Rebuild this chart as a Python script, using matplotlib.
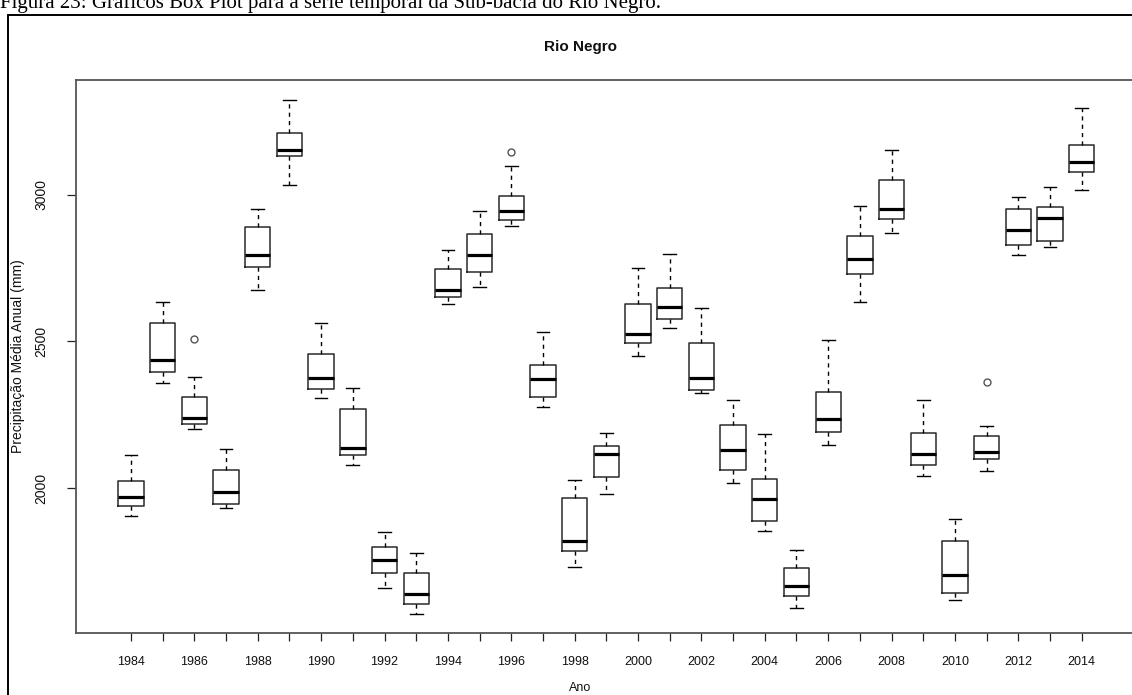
import matplotlib
matplotlib.use("Agg")
import matplotlib.pyplot as plt
from matplotlib import font_manager
from matplotlib.patches import Rectangle

# ---- data ----
years = list(range(1984, 2015))
whisker_low = [1903, 2358, 2201, 1931, 2675, 3033, 2306, 2078, 1660, 1572,
               2626, 2687, 2892, 2276, 1732, 1979, 2450, 2545, 2324, 2017,
               1855, 1592, 2147, 2635, 2869, 2041, 1618, 2057, 2794, 2820, 3017]
q1 = [1938, 2396, 2218, 1946, 2754, 3132, 2339, 2111, 1711, 1605,
      2652, 2737, 2914, 2309, 1786, 2038, 2493, 2576, 2334, 2062,
      1888, 1632, 2192, 2728, 2918, 2077, 1642, 2099, 2827, 2843, 3078]
median = [1968, 2437, 2240, 1988, 2793, 3152, 2376, 2136, 1756, 1640,
          2675, 2794, 2943, 2370, 1819, 2115, 2526, 2618, 2376, 2130,
          1964, 1666, 2236, 2782, 2951, 2115, 1703, 2123, 2879, 2921, 3112]
q3 = [2024, 2564, 2309, 2062, 2890, 3211, 2458, 2268, 1799, 1710,
      2745, 2865, 2996, 2420, 1965, 2144, 2626, 2683, 2493, 2214,
      2029, 1728, 2329, 2858, 3050, 2189, 1819, 2177, 2951, 2959, 3169]
whisker_high = [2111, 2635, 2379, 2133, 2952, 3322, 2564, 2342, 1851, 1778,
                2811, 2946, 3099, 2531, 2028, 2189, 2750, 2798, 2614, 2300,
                2185, 1789, 2506, 2962, 3152, 2300, 1893, 2210, 2993, 3026, 3294]
outlier_years = [1986, 1996, 2011]
outlier_values = [2507, 3147, 2360]
ytick_values = [2000, 2500, 3000]
xtick_label_years = [y for y in years if y % 2 == 0]

title = "Rio Negro"
xlabel = "Ano"
ylabel = "Precipitação Média Anual (mm)"
caption = "Figura 23: Gráficos Box Plot para a série temporal da Sub-bacia do Rio Negro."


def has_font(name):
    try:
        font_manager.findfont(font_manager.FontProperties(family=name), fallback_to_default=False)
        return True
    except Exception:
        return False

narrow = "Liberation Sans Narrow" if has_font("Liberation Sans Narrow") else "Liberation Sans"
regular = "Liberation Sans"
serif = "Liberation Serif"

W, H = 1132, 695
fig = plt.figure(figsize=(W / 100, H / 100), dpi=100)

# axes placement in pixels
left_px, top_px, bottom_px = 75.7, 80.0, 633.3
step_px = (1081.7 - 131.0) / 30.0
x0 = years[0] - (131.0 - left_px) / step_px
x1 = years[-1] + (131.0 - left_px) / step_px
right_px = left_px + (x1 - x0) * step_px
ax = fig.add_axes([left_px / W, 1 - bottom_px / H, (right_px - left_px) / W, (bottom_px - top_px) / H])

stats = []
for i, yr in enumerate(years):
    fl = [v for oy, v in zip(outlier_years, outlier_values) if oy == yr]
    stats.append(dict(whislo=whisker_low[i], q1=q1[i], med=median[i], q3=q3[i],
                      whishi=whisker_high[i], fliers=fl))

edge = "#2a2a2a"
ax.bxp(stats, positions=years, widths=0.8, capwidths=0.4, manage_ticks=False,
       boxprops=dict(color=edge, linewidth=1.1),
       medianprops=dict(color="black", linewidth=2.3, solid_capstyle="butt"),
       whiskerprops=dict(color="black", linewidth=1.0, linestyle=(0, (3, 3))),
       capprops=dict(color="black", linewidth=1.0),
       flierprops=dict(marker="o", markerfacecolor="none", markeredgecolor="#555555",
                       markersize=5, markeredgewidth=1.0))

ax.set_xlim(x0, x1)
ax.set_ylim(3000 - (bottom_px - 194.7) / 0.2933, 3000 + (194.7 - top_px) / 0.2933)

for s in ax.spines.values():
    s.set_color("#555555")
    s.set_linewidth(1.3)

ax.set_xticks(years)
ax.set_xticklabels([str(y) if y in xtick_label_years else "" for y in years],
                   fontfamily=narrow, fontsize=9)
ax.tick_params(axis="x", length=5.5, width=0.9, color="#222222", pad=11, labelcolor="#111111")
ax.set_yticks(ytick_values)
ax.set_yticklabels([str(v) for v in ytick_values], rotation=90, va="center",
                   fontfamily=regular, fontsize=10)
ax.tick_params(axis="y", length=6.5, width=0.9, color="#222222", pad=13, labelcolor="#111111")

fig.text(580 / W, 1 - 47 / H, title, ha="center", va="center", fontfamily=narrow,
         fontweight="bold", fontsize=11, color="#111111")
fig.text(580 / W, 1 - 688 / H, xlabel, ha="center", va="center", fontfamily=narrow,
         fontsize=9, color="#111111")
fig.text(18 / W, 1 - 356 / H, ylabel, ha="center", va="center", rotation=90,
         fontfamily=regular, fontsize=10, color="#111111")

# caption (cropped at top, as in the reference) and outer frame
fig.text(0.0, 1 - 8 / H, caption, ha="left", va="baseline", fontfamily=serif,
         fontsize=15, color="black")
fig.patches.append(Rectangle((8 / W, -0.05), 1.2, (1 - 15 / H) + 0.05, transform=fig.transFigure,
                             fill=False, edgecolor="black", linewidth=1.4))

fig.savefig("out.png", dpi=100)
